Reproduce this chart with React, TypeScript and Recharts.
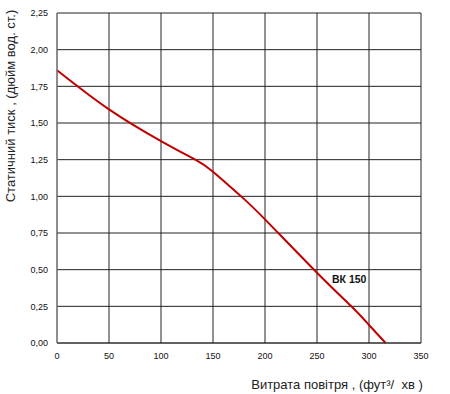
import React from 'react';
import { LineChart, Line, XAxis, YAxis, CartesianGrid, ReferenceDot } from 'recharts';

const flow = [0, 50, 100, 133, 150, 177, 200, 250, 283, 300, 316];
const pressure = [1.86, 1.593, 1.377, 1.25, 1.168, 1.0, 0.843, 0.479, 0.25, 0.123, 0];
const xTicks = [0, 50, 100, 150, 200, 250, 300, 350];
const yTicks = [0, 0.25, 0.5, 0.75, 1.0, 1.25, 1.5, 1.75, 2.0, 2.25];
const seriesName = 'ВК 150';
const seriesLabelAt = { x: 281, y: 0.436 };
const xTitle = 'Витрата повітря , (фут³/  хв )';
const yTitle = 'Статичний тиск , (дюйм вод. ст.)';

const data = flow.map((f, i) => ({ flow: f, p: pressure[i] }));

const fmtY = (v: number) => v.toFixed(2).replace('.', ',');

export default function App() {
  return (
    <div style={{ position: 'absolute', left: 0, top: 0 }}>
      <LineChart width={450} height={394} data={data} margin={{ top: 13, right: 29, bottom: 0, left: 0 }}>
        <CartesianGrid stroke="#222" strokeWidth={1} />
        <XAxis
          dataKey="flow"
          type="number"
          domain={[0, 350]}
          ticks={xTicks}
          height={51}
          tickLine={false}
          tickSize={6}
          tickMargin={4}
          axisLine={{ stroke: '#333' }}
          tick={{ fontFamily: 'Liberation Sans, Arial', fontSize: 9, fill: '#111' }}
          label={() => (
            <text x={337} y={389} textAnchor="middle" fontFamily="Liberation Sans, Arial" fontSize={13} fill="#222" style={{ whiteSpace: 'pre' }}>
              {xTitle}
            </text>
          )}
        />
        <YAxis
          type="number"
          domain={[0, 2.25]}
          ticks={yTicks}
          width={57}
          tickLine={false}
          tickSize={6}
          tickMargin={3}
          tickFormatter={fmtY}
          axisLine={{ stroke: '#888' }}
          tick={{ fontFamily: 'Liberation Sans, Arial', fontSize: 9, fill: '#111' }}
          label={() => (
            <text x={15} y={106} transform="rotate(-90 15 106)" textAnchor="middle" fontFamily="Liberation Sans, Arial" fontSize={13} fill="#222">
              {yTitle}
            </text>
          )}
        />
        <Line
          type="natural"
          dataKey="p"
          stroke="#c00000"
          strokeWidth={2}
          dot={false}
          activeDot={false}
          isAnimationActive={false}
        />
        <ReferenceDot
          x={seriesLabelAt.x}
          y={seriesLabelAt.y}
          r={0}
          stroke="none"
          fill="none"
          label={{ value: seriesName, position: 'center', fontFamily: 'Liberation Sans, Arial', fontSize: 10.5, fontWeight: 'bold', fill: '#111' }}
        />
      </LineChart>
    </div>
  );
}
